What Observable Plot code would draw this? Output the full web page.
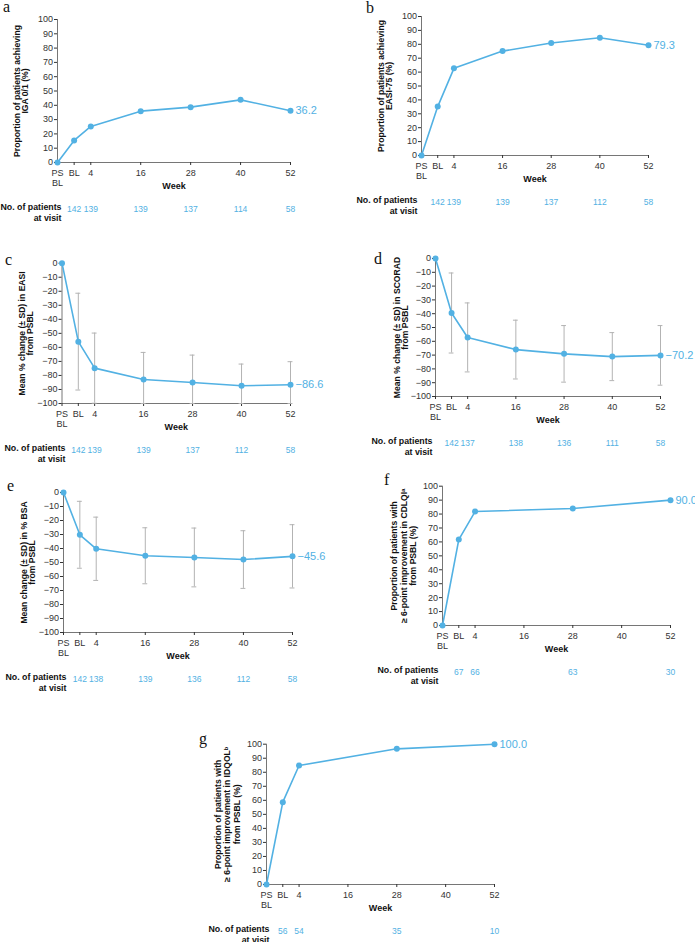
<!DOCTYPE html>
<html><head><meta charset="utf-8">
<script src="https://cdn.jsdelivr.net/npm/d3@7"></script>
<script src="https://cdn.jsdelivr.net/npm/@observablehq/plot@0.6"></script>
<style>
body{margin:0;background:#fff}
#fig{position:relative;width:695px;height:942px;overflow:hidden;font-family:"Liberation Sans",Arial,sans-serif}
.panel{position:absolute}
.letter{position:absolute;font-family:"Liberation Serif","Times New Roman",serif;font-size:16px;line-height:12px;color:#111}
</style></head>
<body><div id="fig"></div>
<script>
// ---- shared axes ----
const weeks = [-4, 0, 4, 16, 28, 40, 52];
const weekLabels = ["PS\nBL", "BL", "4", "16", "28", "40", "52"];
const countWeeks = [0, 4, 16, 28, 40, 52];
const qolWeeks = [-4, 0, 4, 28, 52];
const qolCountWeeks = [0, 4, 28, 52];
const pctTicks = [0, 10, 20, 30, 40, 50, 60, 70, 80, 90, 100];
const changeTicks = [0, -10, -20, -30, -40, -50, -60, -70, -80, -90, -100];

// ---- a: IGA 0/1 ----
const igaValues = [0, 15.4, 25.2, 35.9, 38.7, 43.8, 36.2];
const igaCounts = [142, 139, 139, 137, 114, 58];
// ---- b: EASI-75 ----
const easi75Values = [0, 35.2, 62.7, 75.1, 80.9, 84.7, 79.3];
const easi75Counts = [142, 139, 139, 137, 112, 58];
// ---- c: % change EASI ----
const easiMean = [0, -55.9, -74.8, -82.9, -85.0, -87.4, -86.6];
const easiSD = [null, 34.5, 25.0, 19.3, 19.5, 15.5, 16.4];
const easiCounts = [142, 139, 139, 137, 112, 58];
// ---- d: % change SCORAD ----
const scoradMean = [0, -39.5, -57.2, -66.0, -69.1, -71.1, -70.2];
const scoradSD = [null, 29.0, 25.0, 21.3, 20.5, 17.4, 21.6];
const scoradCounts = [142, 137, 138, 136, 111, 58];
// ---- e: change % BSA ----
const bsaMean = [0, -30.2, -40.2, -45.2, -46.4, -47.9, -45.6];
const bsaSD = [null, 23.9, 22.6, 20.0, 21.0, 20.6, 22.6];
const bsaCounts = [142, 138, 139, 136, 112, 58];
// ---- f: CDLQI ----
const cdlqiValues = [0, 61.7, 81.8, 84.0, 90.0];
const cdlqiCounts = [67, 66, 63, 30];
// ---- g: IDQOL ----
const idqolValues = [0, 58.7, 84.8, 96.7, 100.0];
const idqolCounts = [56, 54, 35, 10];

const blue = "#52b1e3";
const fig = document.getElementById("fig");

function fmt(v, digits) {
  const s = Math.abs(v).toFixed(digits);
  return v < 0 ? "\u2212" + s : s;
}

function panel(c) {
  const marginLeft = c.axisX - c.left;
  const marginTop = c.yTop - c.top;
  const marginRight = 48, marginBottom = 64;
  const width = Math.round(c.xEnd - c.left + marginRight);
  const height = Math.round(c.yBot - c.top + marginBottom);
  const data = c.weeks.map((w, i) => ({w, v: c.values[i], sd: c.sd ? c.sd[i] : null}));
  const last = data[data.length - 1];
  const [yMin, yMax] = c.yDomain;
  const bars = data.filter(d => d.sd != null).map(d => ({w: d.w, lo: Math.max(d.v - d.sd, yMin), hi: Math.min(d.v + d.sd, yMax)}));
  const marks = [
    Plot.ruleY([yMin], {stroke: "#666", strokeWidth: 0.9}),
    Plot.ruleX([-4], {stroke: "#666", strokeWidth: 0.9}),
    Plot.axisY({ticks: c.yTicks, tickFormat: d => fmt(d, 0), tickSize: 3, tickPadding: 1.5, label: null, fontSize: 9, color: "#333"}),
    Plot.axisX({ticks: weeks, tickFormat: d => weekLabels[weeks.indexOf(d)], tickSize: 3, tickPadding: 2.5, label: null, fontSize: 9, lineHeight: 1.2, color: "#333"})
  ];
  if (bars.length) {
    marks.push(Plot.ruleX(bars, {x: "w", y1: "lo", y2: "hi", stroke: "#b3b3b3", strokeWidth: 1}));
    marks.push(Plot.ruleY(bars, {y: "lo", x1: d => d.w - 0.6, x2: d => d.w + 0.6, stroke: "#b3b3b3"}));
    marks.push(Plot.ruleY(bars, {y: "hi", x1: d => d.w - 0.6, x2: d => d.w + 0.6, stroke: "#b3b3b3"}));
  }
  marks.push(Plot.line(data, {x: "w", y: "v", stroke: blue, strokeWidth: 1.6}));
  marks.push(Plot.dot(data, {x: "w", y: "v", r: 3, fill: blue}));
  marks.push(Plot.text([last], {x: "w", y: "v", text: d => fmt(d.v, 1), dx: 5, textAnchor: "start", fill: blue, fontSize: 11}));
  marks.push(Plot.text([c.title], {frameAnchor: "left", dx: -c.titleDx, rotate: -90, textAnchor: "middle", lineAnchor: "middle", fontWeight: "bold", fontSize: 8.6, lineHeight: c.lineHeight, fill: "#111"}));
  marks.push(Plot.text(["Week"], {frameAnchor: "bottom", dy: 26.5, fontWeight: "bold", fontSize: 9, fill: "#111"}));
  marks.push(Plot.text(["No. of patients\nat visit"], {frameAnchor: "bottom-left", dx: c.noPatDx, dy: 49.5, textAnchor: "end", lineAnchor: "middle", fontWeight: "bold", fontSize: 8.8, lineHeight: 1.25, fill: "#111"}));
  marks.push(Plot.text(c.counts, {x: (d, i) => c.countWeeks[i], text: d => String(d), frameAnchor: "bottom", dy: 49, fill: blue, fontSize: 8.5}));

  const svg = Plot.plot({
    width, height, marginLeft, marginTop, marginRight, marginBottom,
    x: {domain: [-4, 52]},
    y: {domain: c.yDomain},
    style: {fontFamily: "'Liberation Sans', Arial, sans-serif", fontSize: "9px", background: "transparent", overflow: "visible", color: "#222"},
    marks
  });
  const div = document.createElement("div");
  div.className = "panel";
  div.style.left = c.left + "px";
  div.style.top = c.top + "px";
  div.style.width = width + "px";
  div.appendChild(svg);
  fig.appendChild(div);

  const letter = document.createElement("div");
  letter.className = "letter";
  letter.textContent = c.letter;
  letter.style.left = c.letterX + "px";
  letter.style.top = (c.letterBase - 11.4) + "px";
  fig.appendChild(letter);
}

panel({letter: "a", letterX: 3, letterBase: 12, left: 0, top: 0, axisX: 57, xEnd: 290, yTop: 19, yBot: 162,
  weeks, values: igaValues, counts: igaCounts, countWeeks, yDomain: [0, 100], yTicks: pctTicks,
  title: "Proportion of patients achieving\nIGA 0/1 (%)", titleDx: 36.5, lineHeight: 0.95, noPatDx: 4});
panel({letter: "b", letterX: 366, letterBase: 13, left: 345, top: 0, axisX: 421, xEnd: 648, yTop: 16, yBot: 155,
  weeks, values: easi75Values, counts: easi75Counts, countWeeks, yDomain: [0, 100], yTicks: pctTicks,
  title: "Proportion of patients achieving\nEASI-75 (%)", titleDx: 36, lineHeight: 0.95, noPatDx: -4});
panel({letter: "c", letterX: 5, letterBase: 265, left: 0, top: 245, axisX: 61.5, xEnd: 290, yTop: 262.7, yBot: 402.7,
  weeks, values: easiMean, sd: easiSD, counts: easiCounts, countWeeks, yDomain: [-100, 0], yTicks: changeTicks,
  title: "Mean % change (\u00b1 SD) in EASI\nfrom PSBL", titleDx: 36, lineHeight: 0.95, noPatDx: 3.5});
panel({letter: "d", letterX: 374, letterBase: 264, left: 345, top: 245, axisX: 435, xEnd: 660, yTop: 258, yBot: 395.7,
  weeks, values: scoradMean, sd: scoradSD, counts: scoradCounts, countWeeks, yDomain: [-100, 0], yTicks: changeTicks,
  title: "Mean % change (\u00b1 SD) in SCORAD\nfrom PSBL", titleDx: 34, lineHeight: 0.95, noPatDx: -3});
panel({letter: "e", letterX: 7, letterBase: 491, left: 0, top: 470, axisX: 63, xEnd: 292, yTop: 492, yBot: 632.3,
  weeks, values: bsaMean, sd: bsaSD, counts: bsaCounts, countWeeks, yDomain: [-100, 0], yTicks: changeTicks,
  title: "Mean change (\u00b1 SD) in % BSA\nfrom PSBL", titleDx: 35, lineHeight: 0.95, noPatDx: 3});
panel({letter: "f", letterX: 384, letterBase: 485, left: 345, top: 470, axisX: 442, xEnd: 670, yTop: 485.7, yBot: 625,
  weeks: qolWeeks, values: cdlqiValues, counts: cdlqiCounts, countWeeks: qolCountWeeks, yDomain: [0, 100], yTicks: pctTicks,
  title: "Proportion of patients with\n\u2265 6-point improvement in CDLQI\u1d43\nfrom PSBL (%)", titleDx: 38.7, lineHeight: 1.1, noPatDx: -4});
panel({letter: "g", letterX: 199, letterBase: 744, left: 190, top: 725, axisX: 266, xEnd: 494, yTop: 743.7, yBot: 884,
  weeks: qolWeeks, values: idqolValues, counts: idqolCounts, countWeeks: qolCountWeeks, yDomain: [0, 100], yTicks: pctTicks,
  title: "Proportion of patients with\n\u2265 6-point improvement in IDQOL\u1d47\nfrom PSBL (%)", titleDx: 39.3, lineHeight: 1.1, noPatDx: 3});
</script>
</body></html>
